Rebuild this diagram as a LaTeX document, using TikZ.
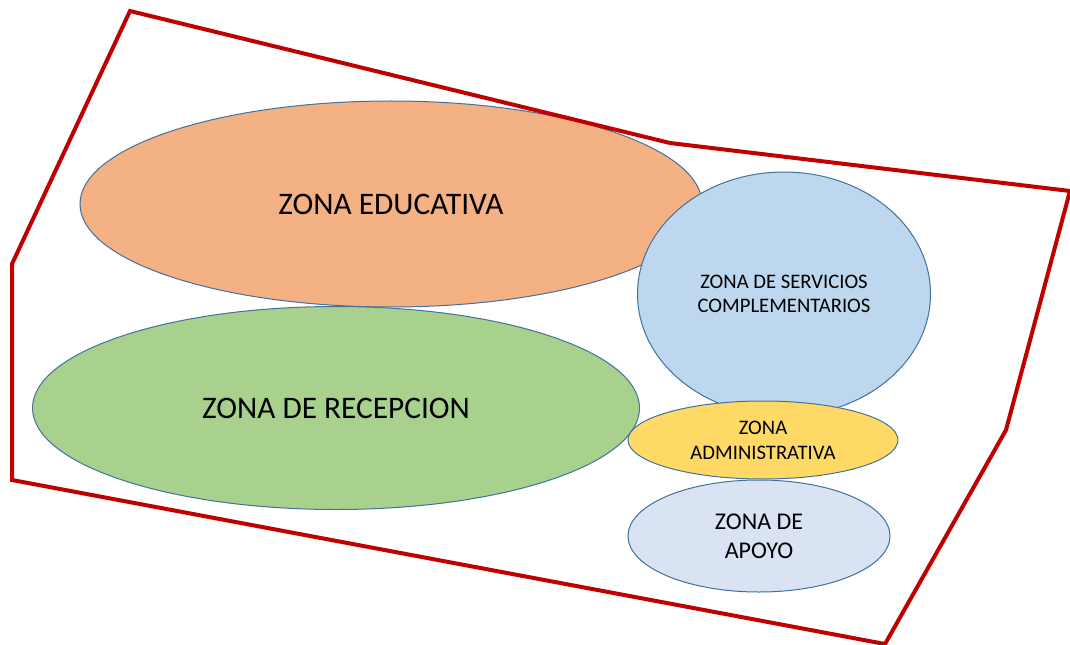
\documentclass[tikz,border=0pt]{standalone}
\usepackage{fontspec}
\setmainfont{Carlito}
\usetikzlibrary{shapes.geometric}
\definecolor{redline}{HTML}{C00000}
\definecolor{edge}{HTML}{41719C}
\definecolor{orangefill}{HTML}{F4B183}
\definecolor{greenfill}{HTML}{A9D18E}
\definecolor{bluefill}{HTML}{BDD7EE}
\definecolor{yellowfill}{HTML}{FFD966}
\definecolor{palefill}{HTML}{DAE3F3}
\tikzset{
  zone/.style={ellipse, draw=edge, line width=0.75pt, inner sep=0pt, align=center, text=black},
  border/.style={draw=redline, line width=3pt, line join=miter}
}
\begin{document}
\begin{tikzpicture}[x=0.75pt,y=-0.75pt]
\useasboundingbox (0,0) rectangle (1070,645);
\node[zone, fill=orangefill, minimum width=622*0.75pt, minimum height=206*0.75pt, font=\fontsize{23.5}{28}\selectfont] (edu) at (391,204) {ZONA EDUCATIVA};
\node[zone, fill=greenfill, minimum width=607*0.75pt, minimum height=203*0.75pt, font=\fontsize{23.5}{28}\selectfont] (rec) at (336,408) {ZONA DE RECEPCION};
\node[zone, fill=bluefill, minimum width=293*0.75pt, minimum height=244*0.75pt, font=\fontsize{15.5}{18}\selectfont] (serv) at (784,294) {ZONA DE SERVICIOS\\COMPLEMENTARIOS};
\node[zone, fill=yellowfill, minimum width=270*0.75pt, minimum height=78*0.75pt, font=\fontsize{15.5}{18.75}\selectfont] (adm) at (763,440) {ZONA\\ADMINISTRATIVA};
\node[zone, fill=palefill, minimum width=262*0.75pt, minimum height=112*0.75pt, font=\fontsize{18}{21.75}\selectfont] (apo) at (759,536) {ZONA DE\\APOYO};
\coordinate (p1) at (130,11);
\coordinate (p2) at (670,143);
\coordinate (p3) at (1070,191);
\coordinate (p4) at (1006,430);
\coordinate (p5) at (885,644);
\coordinate (p6) at (12,480);
\coordinate (p7) at (12,264);
\draw[border] (p1) -- (p2) -- (p3) -- (p4) -- (p5) -- (p6) -- (p7) -- cycle;
\end{tikzpicture}
\end{document}
